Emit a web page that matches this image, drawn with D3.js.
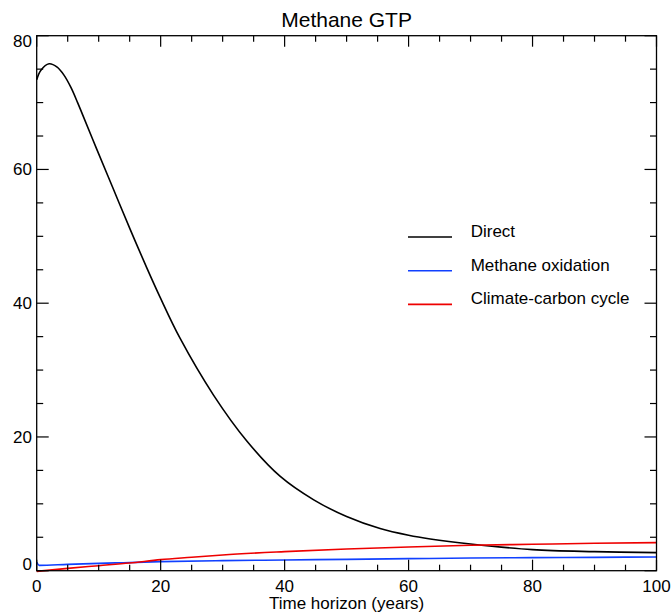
<!DOCTYPE html>
<html>
<head>
<meta charset="utf-8">
<script src="https://cdn.jsdelivr.net/npm/d3@7"></script>
<style>
	body { margin: 0; background: #fff; }
	text { font-family: "Liberation Sans", Arial, sans-serif; fill: #000; }
</style>
</head>
<body>
<div class="plot"></div>
<script>
//Data
const directYears = [0, 0.65, 2, 3.3, 4.4, 5.5, 6.6, 7.4, 9.7, 12.4, 15.1, 17.8, 19.9, 23.1, 28.5, 33.9, 39.3, 44.7, 50, 55.4, 60, 63.5, 70, 80, 90, 100];
const directValues = [73.4, 74.8, 75.8, 75.3, 74.1, 72.3, 70.0, 68.2, 63.0, 57.0, 51.0, 45.2, 40.9, 34.8, 26.3, 19.4, 14.1, 10.6, 8.1, 6.3, 5.3, 4.75, 4.0, 3.15, 2.85, 2.7];

const oxidationYears = [0, 0.4, 5, 10, 14, 20, 30, 40, 50, 60, 70, 80, 90, 100];
const oxidationValues = [1.3, 0.8, 0.95, 1.1, 1.2, 1.35, 1.5, 1.6, 1.7, 1.8, 1.9, 1.95, 2.0, 2.05];

const carbonYears = [0, 5, 10, 15, 20, 25, 30, 40, 50, 60, 70, 80, 90, 100];
const carbonValues = [-0.1, 0.35, 0.75, 1.15, 1.65, 2.0, 2.35, 2.85, 3.25, 3.55, 3.8, 3.95, 4.1, 4.2];

const seriesNames = ['Direct', 'Methane oxidation', 'Climate-carbon cycle'];
const seriesColors = ['#000000', '#1040ff', '#ee0000'];

const xTicks = [0, 20, 40, 60, 80, 100];
const yTicks = [0, 20, 40, 60, 80];

//Prepare DOM canvas
const W = 671, H = 615;
const m = {t: 35.7, r: 14.5, b: 44.3, l: 36.7};
const svg = d3.select('.plot').append('svg').attr('width', W).attr('height', H);

const x = d3.scaleLinear().domain([0, 100]).range([m.l, W - m.r]);
const y = d3.scaleLinear().domain([0, 80]).range([H - m.b, m.t]);

const series = [
	{name: seriesNames[0], color: seriesColors[0], curve: d3.curveCatmullRom.alpha(0.5), pts: directYears.map((t, i) => [t, directValues[i]])},
	{name: seriesNames[1], color: seriesColors[1], curve: d3.curveMonotoneX, pts: oxidationYears.map((t, i) => [t, oxidationValues[i]])},
	{name: seriesNames[2], color: seriesColors[2], curve: d3.curveMonotoneX, pts: carbonYears.map((t, i) => [t, carbonValues[i]])}
];

//Curves
svg.append('g').selectAll('path')
	.data(series)
	.enter()
	.append('path')
	.attr('d', d => d3.line().x(p => x(p[0])).y(p => y(p[1])).curve(d.curve)(d.pts))
	.style('fill', 'none')
	.style('stroke', d => d.color)
	.style('stroke-width', '1.6px');

//Frame with inward ticks on all four sides
const frame = svg.append('g');
frame.append('rect')
	.attr('x', x(0)).attr('y', y(80))
	.attr('width', x(100) - x(0)).attr('height', y(0) - y(80))
	.style('fill', 'none').style('stroke', '#000').style('stroke-width', '1.3px');

const xMinor = d3.range(0, 101, 5);
const yMinor = d3.range(0, 81, 5);
xMinor.forEach(v => {
	const len = v % 20 === 0 ? 11 : 6;
	frame.append('line').attr('x1', x(v)).attr('x2', x(v)).attr('y1', y(0)).attr('y2', y(0) - len)
		.style('stroke', '#000').style('stroke-width', '1.2px');
	frame.append('line').attr('x1', x(v)).attr('x2', x(v)).attr('y1', y(80)).attr('y2', y(80) + len)
		.style('stroke', '#000').style('stroke-width', '1.2px');
});
yMinor.forEach(v => {
	const len = v % 20 === 0 ? 12 : 6.5;
	frame.append('line').attr('x1', x(0)).attr('x2', x(0) + len).attr('y1', y(v)).attr('y2', y(v))
		.style('stroke', '#000').style('stroke-width', '1.2px');
	frame.append('line').attr('x1', x(100)).attr('x2', x(100) - len).attr('y1', y(v)).attr('y2', y(v))
		.style('stroke', '#000').style('stroke-width', '1.2px');
});

//Tick labels
svg.append('g').selectAll('text')
	.data(xTicks)
	.enter()
	.append('text')
	.attr('x', d => x(d))
	.attr('y', 592)
	.attr('text-anchor', 'middle')
	.style('font-size', '17px')
	.text(d => d);

svg.append('g').selectAll('text')
	.data(yTicks)
	.enter()
	.append('text')
	.attr('x', 32)
	.attr('y', d => {
		//end labels are kept inside the axis span
		if (d === 80) return y(d) + 11;
		if (d === 0) return y(d) - 0.5;
		return y(d) + 6;
	})
	.attr('text-anchor', 'end')
	.style('font-size', '17px')
	.text(d => d);

//Title and axis title
svg.append('text')
	.attr('x', (x(0) + x(100)) / 2)
	.attr('y', 26.5)
	.attr('text-anchor', 'middle')
	.style('font-size', '21px')
	.text('Methane GTP');

svg.append('text')
	.attr('x', (x(0) + x(100)) / 2)
	.attr('y', 609)
	.attr('text-anchor', 'middle')
	.style('font-size', '17px')
	.text('Time horizon (years)');

//Legend
const legend = svg.append('g').attr('transform', 'translate(408, 237)');
const item = legend.selectAll('g')
	.data(series)
	.enter()
	.append('g')
	.attr('transform', (d, i) => `translate(0, ${i * 33.7})`);
item.append('line')
	.attr('x1', 0).attr('x2', 44).attr('y1', 0).attr('y2', 0)
	.style('stroke', d => d.color)
	.style('stroke-width', '1.6px');
item.append('text')
	.attr('x', 62.7)
	.attr('y', 0)
	.style('font-size', '17px')
	.text(d => d.name);
</script>
</body>
</html>
